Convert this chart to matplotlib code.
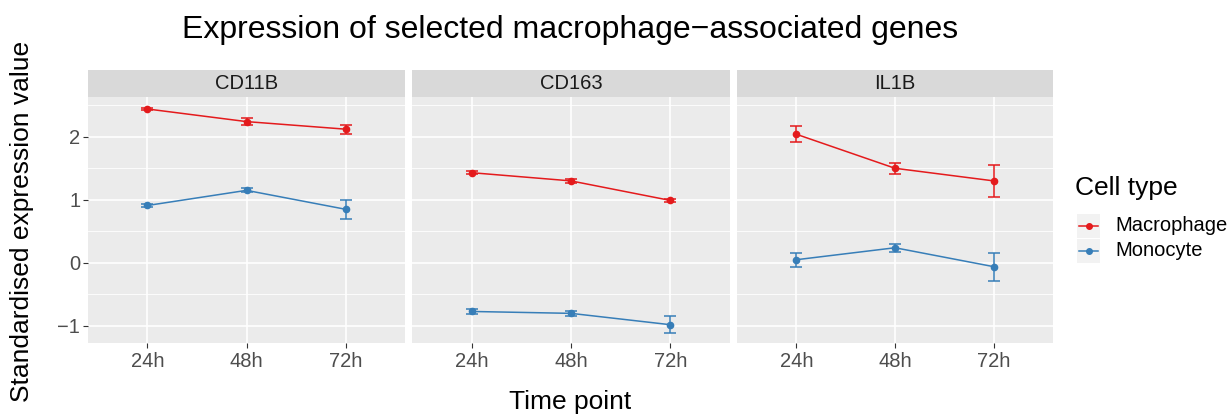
import numpy as np
import matplotlib
matplotlib.use("Agg")
import matplotlib.pyplot as plt

plt.rcParams['font.family'] = ['Liberation Sans', 'DejaVu Sans']

genes = ['CD11B', 'CD163', 'IL1B']
times = ['24h', '48h', '72h']
cell_types = ['Macrophage', 'Monocyte']
colors = {'Macrophage': '#E41A1C', 'Monocyte': '#377EB8'}

# mean values per gene, per cell type (24h, 48h, 72h)
macro_mean = {'CD11B': [2.44, 2.24, 2.12],
              'CD163': [1.43, 1.30, 0.99],
              'IL1B': [2.04, 1.50, 1.30]}
macro_err = {'CD11B': [0.02, 0.05, 0.07],
             'CD163': [0.02, 0.03, 0.03],
             'IL1B': [0.13, 0.09, 0.25]}
mono_mean = {'CD11B': [0.91, 1.15, 0.85],
             'CD163': [-0.77, -0.80, -0.98],
             'IL1B': [0.05, 0.24, -0.06]}
mono_err = {'CD11B': [0.03, 0.03, 0.15],
            'CD163': [0.04, 0.04, 0.135],
            'IL1B': [0.11, 0.06, 0.22]}

W, H = 1230, 416
fig = plt.figure(figsize=(W / 100, H / 100), dpi=100)

def px_axes(x0, y0, x1, y1):
    return fig.add_axes([x0 / W, 1 - y1 / H, (x1 - x0) / W, (y1 - y0) / H])

panel_x = [(88, 405), (412, 730), (737, 1053)]
ylim = (-1.27, 2.63)

for i, gene in enumerate(genes):
    x0, x1 = panel_x[i]
    ax = px_axes(x0, 97, x1, 343)
    ax.set_facecolor('#EBEBEB')
    xs = np.arange(1, len(times) + 1)
    ax.set_xlim(0.4, 3.6)
    ax.set_ylim(*ylim)
    for y in [-0.5, 0.5, 1.5, 2.5]:
        ax.axhline(y, color='white', lw=0.6, zorder=0)
    for y in [-1, 0, 1, 2]:
        ax.axhline(y, color='white', lw=1.2, zorder=0)
    for x in xs:
        ax.axvline(x, color='white', lw=1.2, zorder=0)
    for ct, means, errs in [('Macrophage', macro_mean, macro_err),
                            ('Monocyte', mono_mean, mono_err)]:
        ax.errorbar(xs, means[gene], yerr=errs[gene], color=colors[ct],
                    lw=1.1, marker='o', ms=4.5, capsize=4, capthick=1.1,
                    elinewidth=1.1, zorder=3)
    ax.set_xticks(xs)
    ax.set_xticklabels(times, fontsize=14.5, color='#4D4D4D')
    ax.set_yticks([-1, 0, 1, 2])
    ax.tick_params(color='#333333', length=3.5, width=0.8)
    ax.tick_params(axis='x', pad=3)
    ax.tick_params(axis='y', pad=2)
    if i == 0:
        ax.set_yticklabels(['\u22121', '0', '1', '2'], fontsize=14.5, color='#4D4D4D')
    else:
        ax.set_yticklabels([])
        ax.tick_params(axis='y', length=0)
    for s in ax.spines.values():
        s.set_visible(False)

    strip = px_axes(x0, 70, x1, 97)
    strip.set_facecolor('#D9D9D9')
    strip.set_xticks([])
    strip.set_yticks([])
    for s in strip.spines.values():
        s.set_visible(False)
    strip.text(0.5, 0.5, gene, ha='center', va='center', fontsize=14.5,
               color='#1A1A1A', transform=strip.transAxes)

fig.text(570 / W, 1 - 30 / H, 'Expression of selected macrophage\u2212associated genes',
         ha='center', va='center', fontsize=23)
fig.text(570 / W, 1 - 402 / H, 'Time point', ha='center', va='center', fontsize=19)
fig.text(22 / W, 1 - 221 / H, 'Standardised expression value', ha='center', va='center',
         rotation=90, fontsize=19)

# legend
fig.text(1075 / W, 1 - 188 / H, 'Cell type', ha='left', va='center', fontsize=19)
for j, ct in enumerate(cell_types):
    yc = 225.5 + j * 25.5
    kax = px_axes(1077, yc - 12, 1100, yc + 12)
    kax.set_facecolor('#F2F2F2')
    kax.set_xlim(0, 1)
    kax.set_ylim(0, 1)
    kax.plot([0.1, 0.9], [0.5, 0.5], color=colors[ct], lw=1.1)
    kax.plot([0.5], [0.5], 'o', color=colors[ct], ms=4)
    kax.set_xticks([])
    kax.set_yticks([])
    for s in kax.spines.values():
        s.set_visible(False)
    fig.text(1115 / W, 1 - yc / H, ct, ha='left', va='center', fontsize=14.5)

fig.savefig('out.png', dpi=100)
